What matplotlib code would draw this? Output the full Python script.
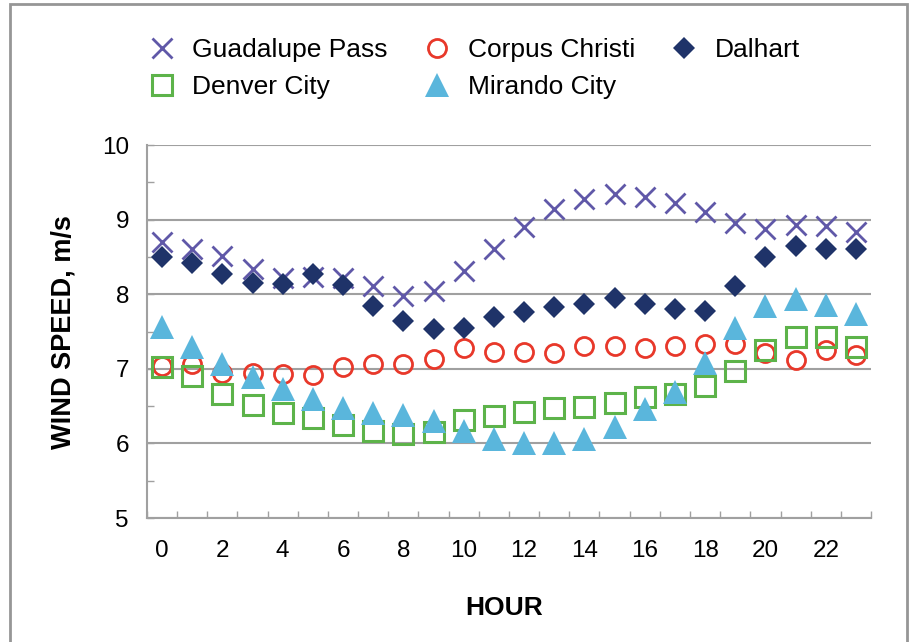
import matplotlib.pyplot as plt
from matplotlib.patches import Rectangle
from matplotlib.ticker import MultipleLocator, FixedLocator

plt.rcParams['font.family'] = ['Liberation Sans', 'DejaVu Sans']

hours = list(range(24))

guadalupe = [8.70, 8.61, 8.51, 8.34, 8.22, 8.23, 8.22, 8.11, 7.98, 8.04, 8.31, 8.61,
             8.90, 9.14, 9.28, 9.34, 9.30, 9.23, 9.10, 8.95, 8.87, 8.93, 8.91, 8.83]
corpus = [7.04, 7.06, 6.94, 6.94, 6.93, 6.92, 7.02, 7.06, 7.06, 7.13, 7.28, 7.23,
          7.22, 7.21, 7.31, 7.31, 7.28, 7.31, 7.34, 7.34, 7.21, 7.12, 7.25, 7.18]
dalhart = [8.50, 8.42, 8.27, 8.15, 8.14, 8.27, 8.12, 7.84, 7.64, 7.53, 7.55, 7.70,
           7.76, 7.83, 7.87, 7.95, 7.87, 7.80, 7.78, 8.11, 8.50, 8.65, 8.61, 8.61]
denver = [7.03, 6.90, 6.66, 6.51, 6.41, 6.34, 6.25, 6.17, 6.13, 6.15, 6.31, 6.37,
          6.42, 6.47, 6.49, 6.54, 6.62, 6.66, 6.77, 6.97, 7.25, 7.43, 7.43, 7.30]
mirando = [7.56, 7.29, 7.06, 6.89, 6.73, 6.59, 6.47, 6.41, 6.38, 6.30, 6.17, 6.06,
           6.00, 6.01, 6.06, 6.22, 6.46, 6.69, 7.08, 7.55, 7.84, 7.94, 7.85, 7.73]

fig = plt.figure(figsize=(9.13, 6.42), dpi=100)
ax = fig.add_axes([0.161, 0.193, 0.793, 0.581])

# outer frame around the whole chart
fig.patches.append(Rectangle((0.011, -0.05), 0.982, 1.043, transform=fig.transFigure,
                             fill=False, edgecolor='#969696', linewidth=2))

l_g, = ax.plot(hours, guadalupe, 'x', color='#6058a8', markersize=14, markeredgewidth=2)
l_c, = ax.plot(hours, corpus, 'o', color='#e8382a', markerfacecolor='none', markersize=13,
               markeredgewidth=2)
l_d, = ax.plot(hours, dalhart, 'D', color='#1f3369', markersize=11.5, markeredgewidth=0)
l_s, = ax.plot(hours, denver, 's', color='#5db34a', markerfacecolor='none', markersize=14.5,
               markeredgewidth=2.2)
l_m, = ax.plot(hours, mirando, '^', color='#5ab6dc', markersize=17, markeredgewidth=0)

ax.set_xlim(-0.5, 23.5)
ax.set_ylim(5, 10)
ax.yaxis.set_major_locator(MultipleLocator(1))
ax.yaxis.set_minor_locator(MultipleLocator(0.5))
ax.xaxis.set_major_locator(FixedLocator(list(range(0, 24, 2))))
ax.xaxis.set_minor_locator(FixedLocator([h - 0.5 for h in range(25)]))
ax.grid(axis='y', which='major', color='#a0a0a0', linewidth=1.5)
ax.set_axisbelow(True)

for s in ['top', 'right']:
    ax.spines[s].set_visible(False)
for s in ['left', 'bottom']:
    ax.spines[s].set_color('#a0a0a0')
    ax.spines[s].set_linewidth(1.5)

ax.tick_params(axis='both', which='both', direction='in', color='#a0a0a0', width=1)
ax.tick_params(axis='x', which='major', length=0, pad=15.5, labelsize=17.5)
ax.tick_params(axis='x', which='minor', length=5)
ax.tick_params(axis='y', which='major', length=5, pad=13, labelsize=17.5)
ax.tick_params(axis='y', which='minor', length=5)

ax.set_xlabel('HOUR', fontsize=19, fontweight='bold', labelpad=25, x=0.493)
ax.set_ylabel('WIND SPEED, m/s', fontsize=19.5, fontweight='bold', labelpad=18)

# legend fills column by column, so order entries to read row by row
handles = [l_g, l_s, l_c, l_m, l_d]
labels = ['Guadalupe Pass', 'Denver City', 'Corpus Christi', 'Mirando City', 'Dalhart']
fig.legend(handles, labels, loc='upper left', bbox_to_anchor=(0.148, 0.961), ncol=3,
           frameon=False, fontsize=19, borderpad=0, handlelength=1.0, handletextpad=0.67,
           columnspacing=1.35, labelspacing=0.49)

fig.savefig('out.png', dpi=100)
